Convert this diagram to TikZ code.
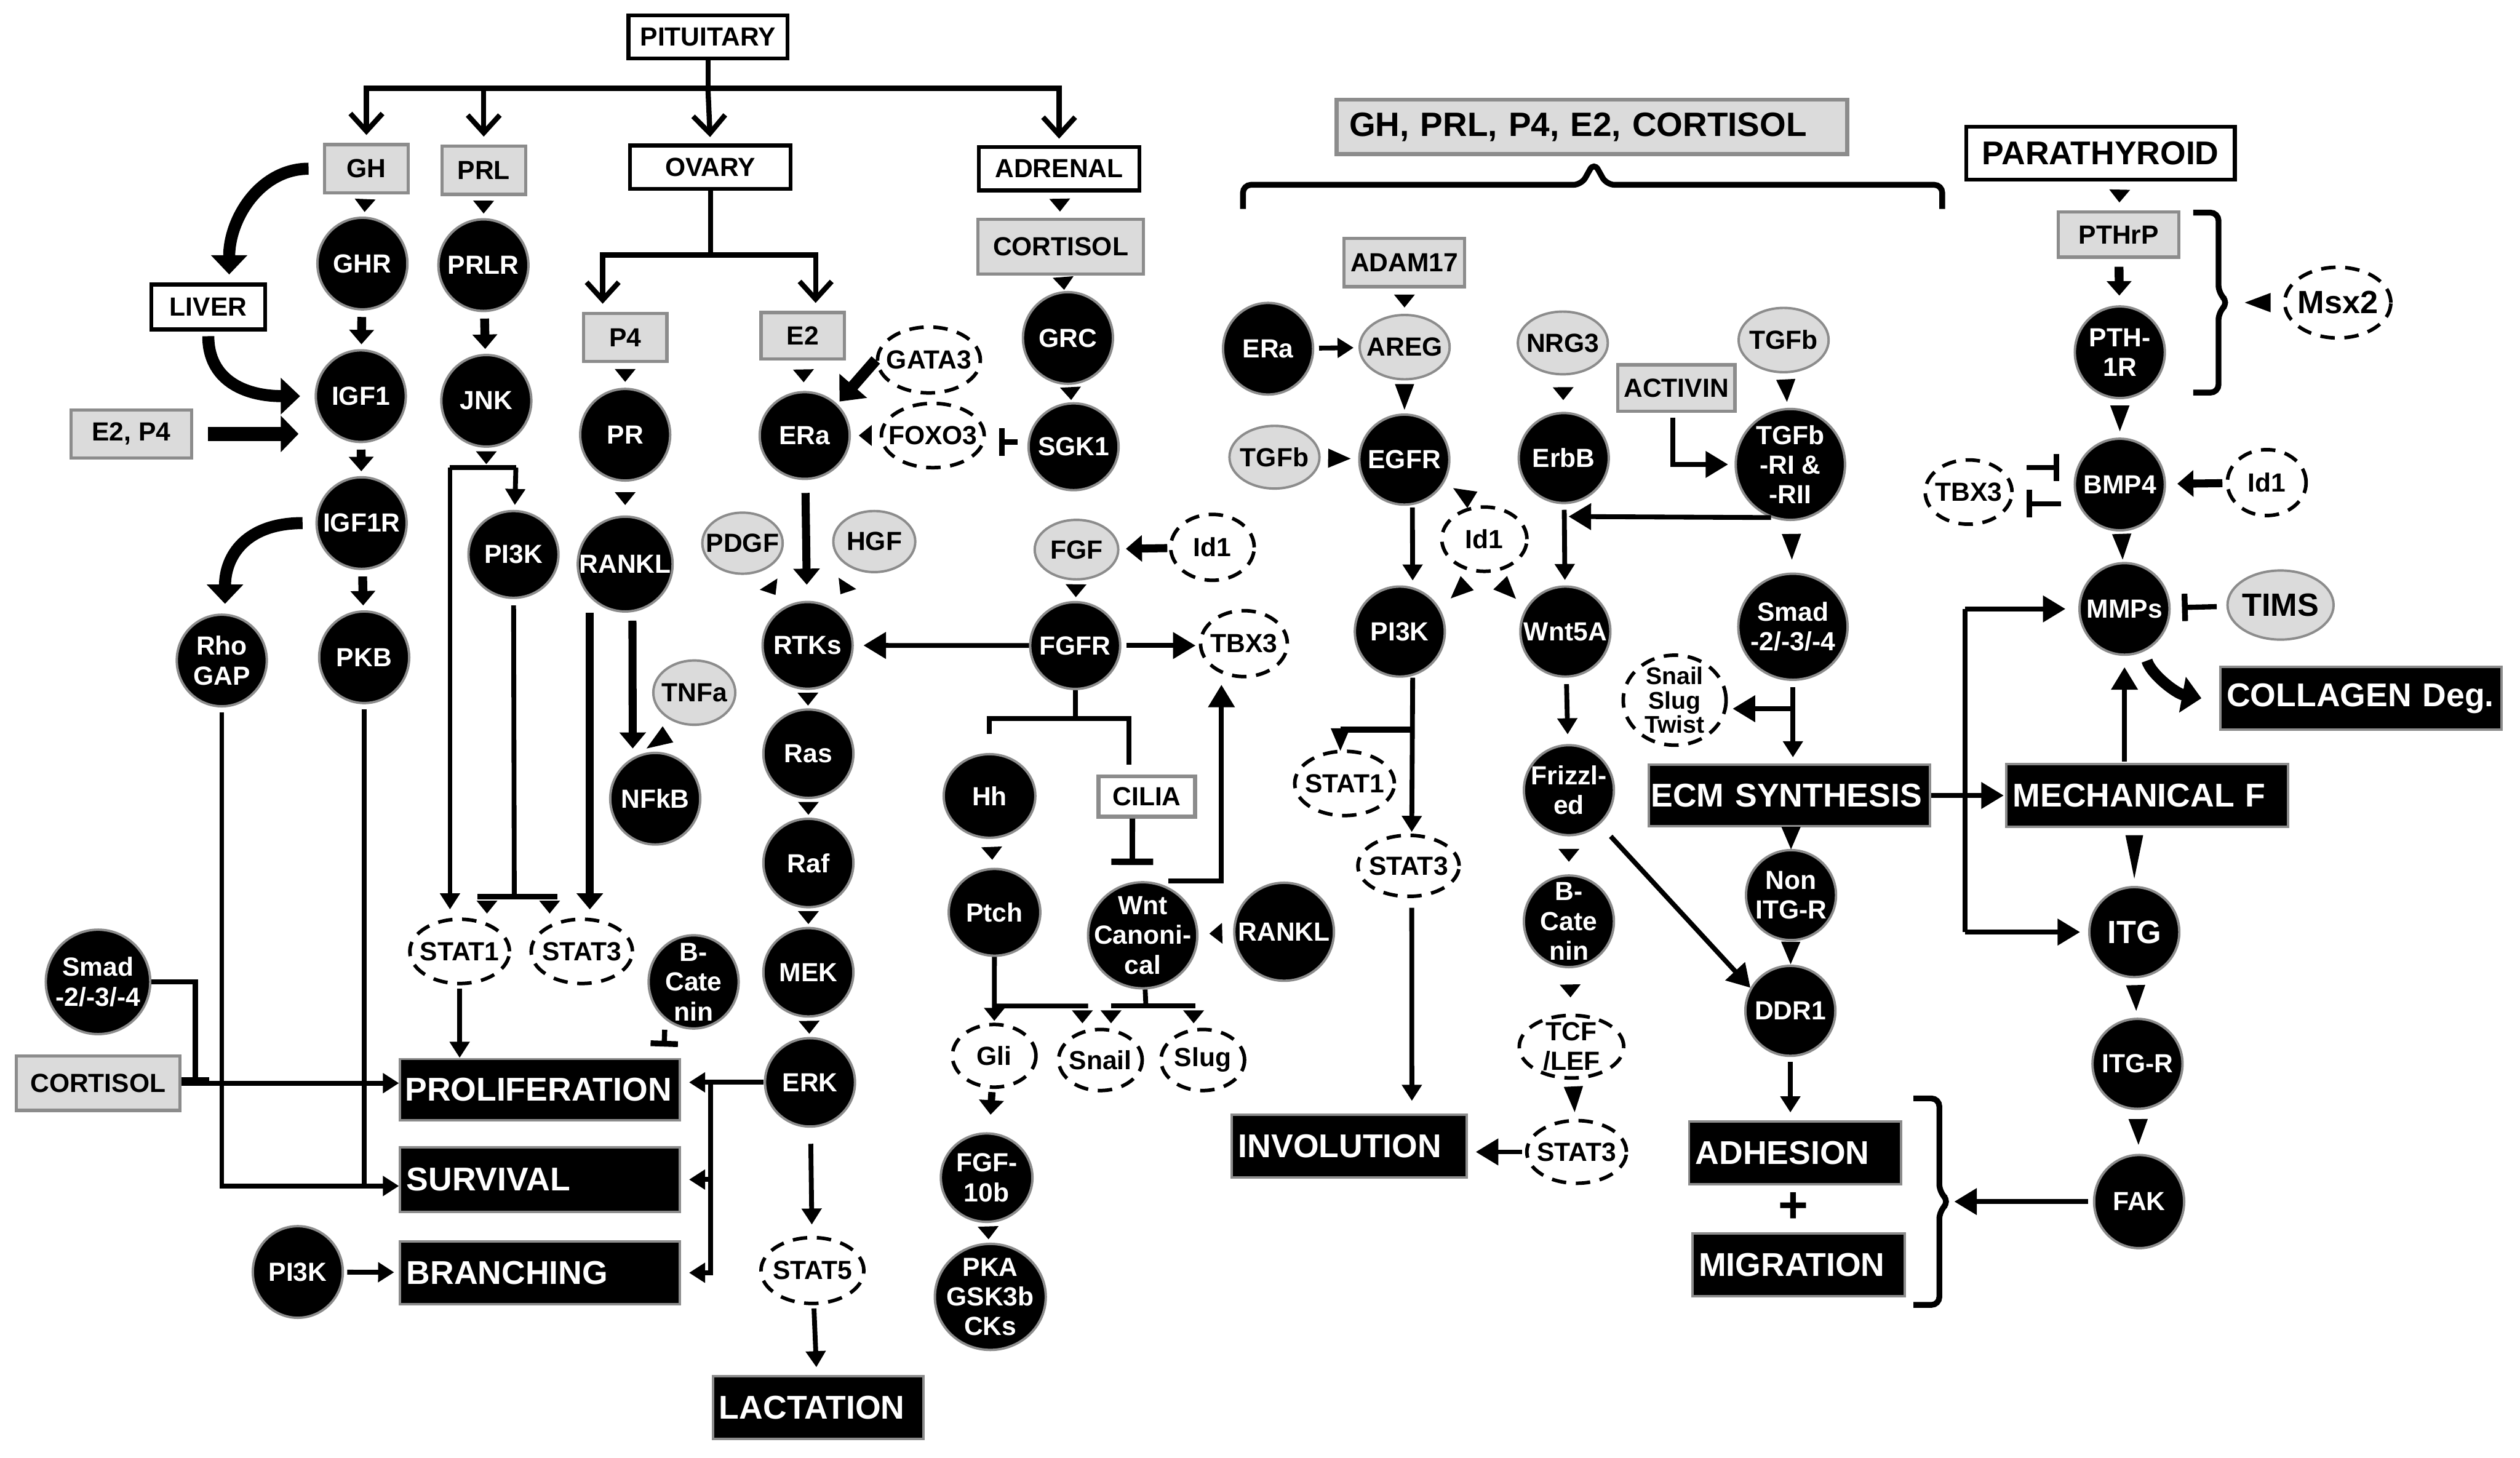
\documentclass[tikz,border=0pt]{standalone}
\usepackage{fontspec}
\setmainfont{Liberation Sans}
\usetikzlibrary{arrows.meta,shapes.geometric,decorations.markings,calc}
\definecolor{lgray}{gray}{0.86}
\definecolor{bgray}{gray}{0.55}
\newcommand\ct[1]{\makebox[0pt]{\vbox to 0pt{\vss\halign{\hfil##\hfil\cr#1\crcr}\vss}}}
\tikzset{
  nbase/.style={font=\bfseries\fontsize{16.3}{18.5}\selectfont, inner sep=0pt},
  bc/.style={nbase, ellipse, fill=black, draw=bgray, line width=1.5pt, text=white, minimum width=56pt, minimum height=57pt},
  gc/.style={nbase, ellipse, fill=lgray, draw=bgray, line width=1.5pt, minimum width=55pt, minimum height=39pt},
  dc/.style={nbase, ellipse, draw=black, line width=2.2pt, dash pattern=on 9pt off 6pt, fill=white, minimum width=62pt, minimum height=40pt},
  gbox/.style={nbase, rectangle, fill=lgray, draw=bgray, line width=2pt},
  wbox/.style={nbase, rectangle, fill=white, draw=black, line width=2.4pt},
  kbox/.style={nbase, rectangle, fill=black, draw=bgray, line width=1.5pt, text=white, font=\bfseries\fontsize{20.5}{22}\selectfont, align=left, inner xsep=4pt, minimum height=39pt},
  bigfont/.style={font=\bfseries\fontsize{20}{22}\selectfont},
  ln/.style={line width=3pt},
  arr/.style={line width=3pt, -{Triangle[length=10pt,width=12pt]}},
  arrB/.style={line width=3pt, -{Triangle[length=14pt,width=16pt]}},
  sarr/.style={line width=5.5pt, -{Triangle[length=9pt,width=15pt]}},
  thk/.style={line width=5pt, -{Triangle[length=10pt,width=16pt]}},
  thkG/.style={line width=7pt, -{Triangle[length=13pt,width=22pt]}},
  bigarr/.style={line width=9pt, -{Triangle[length=11pt,width=22pt]}},
  curv/.style={line width=7.5pt, -{Triangle[length=12pt,width=22pt]}},
  inh/.style={line width=3.2pt, -{Bar[width=17pt,line width=3.6pt]}},
  openarr/.style={line width=3.2pt, -{Straight Barb[length=11pt,width=20pt]}},
  brc/.style={line width=3.6pt, rounded corners=5pt},
  tria/.style={decorate, decoration={markings, mark=at position 0.5 with {\fill (4,0) -- (-4,6.5) -- (-4,-6.5) -- cycle;}}},
  triaM/.style={decorate, decoration={markings, mark=at position 0.5 with {\fill (7,0) -- (-7,6) -- (-7,-6) -- cycle;}}},
  triaL/.style={decorate, decoration={markings, mark=at position 0.5 with {\fill (8,0) -- (-8,6) -- (-8,-6) -- cycle;}}},
  triaXL/.style={decorate, decoration={markings, mark=at position 0.5 with {\fill (13.5,0) -- (-13.5,5.5) -- (-13.5,-5.5) -- cycle;}}},
}
\begin{document}
\begin{tikzpicture}[x=1pt,y=-1pt]
\fill[white] (0,0) rectangle (1568,907);
\useasboundingbox (0,0) rectangle (1568,907);

% ---------------- left part nodes
\node[wbox, minimum width=99pt, minimum height=27pt] (PIT) at (440.5,23) {PITUITARY};
\node[gbox, minimum width=52pt, minimum height=30pt] (GH) at (228,105) {GH};
\node[gbox, minimum width=52pt, minimum height=30pt] (PRL) at (301,106) {PRL};
\node[wbox, minimum width=100pt, minimum height=27pt] (OVARY) at (442,104) {OVARY};
\node[wbox, minimum width=100pt, minimum height=27pt] (ADRENAL) at (659,105) {ADRENAL};
\node[gbox, minimum width=103pt, minimum height=34pt] (CORTM) at (660,153.6) {CORTISOL};
\node[wbox, minimum width=71pt, minimum height=28pt] (LIVER) at (129.6,191) {LIVER};
\node[gbox, minimum width=75pt, minimum height=30pt] (E2P4) at (81.7,270) {E2, P4};
\node[gbox, minimum width=52pt, minimum height=30pt] (P4) at (389,210) {P4};
\node[gbox, minimum width=52pt, minimum height=29pt] (E2) at (499.5,209) {E2};
\node[bc] (GHR) at (225.5,164) {\ct{GHR}};
\node[bc] (IGF1) at (224.5,246.5) {\ct{IGF1}};
\node[bc] (IGF1R) at (225,325.5) {\ct{IGF1R}};
\node[bc] (PKB) at (226.6,409) {\ct{PKB}};
\node[bc] (RHO) at (138,411) {\ct{Rho\cr GAP}};
\node[bc] (PRLR) at (300.8,165) {\ct{PRLR}};
\node[bc] (JNK) at (302.6,249.4) {\ct{JNK}};
\node[bc, minimum height=54pt] (PI3Ka) at (319.5,345) {\ct{PI3K}};
\node[bc] (PR) at (389,270.5) {\ct{PR}};
\node[bc, minimum width=59pt, minimum height=59pt] (RANKLa) at (389,351) {\ct{RANKL}};
\node[gc, minimum width=51pt, minimum height=40pt] (TNFA) at (432,431) {\ct{TNFa}};
\node[bc] (NFKB) at (407.7,497) {\ct{NFkB}};
\node[dc] (STAT1a) at (286,592) {\ct{STAT1}};
\node[dc, minimum width=63pt] (STAT3a) at (362,592) {\ct{STAT3}};
\node[bc, minimum height=58pt] (BCATa) at (431.6,611) {\ct{B-\cr Cate\cr nin}};
\node[bc, minimum width=65pt, minimum height=65pt] (SMADa) at (61,611) {\ct{Smad\cr -2/-3/-4}};
\node[gbox, minimum width=102pt, minimum height=34pt] (CORTL) at (61,674) {CORTISOL};
\node[kbox, text width=168pt, inner xsep=3pt, minimum height=38pt] (PROLIF) at (336,678) {PROLIFERATION};
\node[kbox, text width=166pt, minimum height=40pt] (SURV) at (336,734) {SURVIVAL};
\node[kbox, text width=166pt] (BRANCH) at (336,792) {BRANCHING};
\node[bc] (PI3Kb) at (185.3,791.5) {\ct{PI3K}};

% ---------------- middle nodes
\node[bc, minimum height=54pt] (ERAa) at (500.7,271) {\ct{ERa}};
\node[dc, minimum width=64pt, minimum height=41pt] (GATA3) at (578,224) {\ct{GATA3}};
\node[dc, minimum width=64pt] (FOXO3) at (580.4,271) {\ct{FOXO3}};
\node[bc] (GRC) at (664.5,210.3) {\ct{GRC}};
\node[bc, minimum height=54pt] (SGK1) at (668,278) {\ct{SGK1}};
\node[gc, minimum width=50pt, minimum height=38pt] (PDGF) at (462,338) {\ct{PDGF}};
\node[gc, minimum width=51pt, minimum height=38pt] (HGF) at (544,337) {\ct{HGF}};
\node[bc, minimum height=54pt] (RTKS) at (502.5,401.6) {\ct{RTKs}};
\node[bc, minimum height=55pt] (RAS) at (503,469) {\ct{Ras}};
\node[bc, minimum height=55pt] (RAF) at (503,537) {\ct{Raf}};
\node[bc, minimum height=55pt] (MEK) at (503,605) {\ct{MEK}};
\node[bc, minimum height=55pt] (ERK) at (504,673.5) {\ct{ERK}};
\node[dc, minimum width=64pt, minimum height=41pt] (STAT5) at (505.5,790.6) {\ct{STAT5}};
\node[kbox, text width=123pt] (LACT) at (509,876) {LACTATION};
\node[gc, minimum width=52pt, minimum height=37pt] (FGF) at (669.8,342) {\ct{FGF}};
\node[dc, minimum width=52pt, minimum height=41pt] (ID1a) at (754.4,340.6) {\ct{Id1}};
\node[bc, minimum height=54pt] (FGFR) at (669,401.7) {\ct{FGFR}};
\node[dc, minimum width=54pt, minimum height=41pt] (TBX3a) at (774,400.5) {\ct{TBX3}};
\node[bc, minimum width=57pt, minimum height=52pt] (HH) at (615.7,495.3) {\ct{Hh}};
\node[nbase, rectangle, draw=bgray, fill=white, line width=2.5pt, minimum width=60pt, minimum height=25pt] (CILIA) at (713.6,495.6) {CILIA};
\node[bc, minimum width=57pt, minimum height=54pt] (PTCH) at (618.8,567.7) {\ct{Ptch}};
\node[bc, minimum width=68pt, minimum height=66pt] (WNT) at (711,582) {\ct{Wnt\cr Canoni-\cr cal}};
\node[bc, minimum width=62pt, minimum height=61pt] (RANKLb) at (799,579.8) {\ct{RANKL}};
\node[dc, minimum width=52pt, minimum height=39pt] (GLI) at (618.6,657) {\ct{Gli}};
\node[dc, minimum width=52pt, minimum height=38pt] (SNAILa) at (684.7,659.6) {\ct{Snail}};
\node[dc, minimum width=52pt, minimum height=38pt] (SLUGa) at (748.4,659.6) {\ct{Slug}};
\node[bc, minimum width=57pt, minimum height=55pt] (FGF10) at (613.9,732.8) {\ct{FGF-\cr 10b}};
\node[bc, minimum width=69pt, minimum height=66pt] (PKA) at (616.2,807) {\ct{PKA\cr GSK3b\cr CKs}};

% ---------------- right nodes
\node[gbox, text width=302pt, align=left, inner xsep=8pt, minimum height=34pt, line width=2.6pt, font=\bfseries\fontsize{21}{23}\selectfont] (HORM) at (990.5,79) {GH, PRL, P4, E2, CORTISOL};
\node[gbox, minimum width=75pt, minimum height=30pt] (ADAM) at (873.8,163.4) {ADAM17};
\node[bc] (ERAb) at (789,217) {\ct{ERa}};
\node[gc, minimum width=56pt, minimum height=40pt] (AREG) at (874,216) {\ct{AREG}};
\node[gc, minimum width=56pt, minimum height=39pt] (NRG3) at (972.4,213.4) {\ct{NRG3}};
\node[gc, minimum width=56pt, minimum height=40pt] (TGFBa) at (1109.8,211.6) {\ct{TGFb}};
\node[gbox, minimum width=73pt, minimum height=29pt] (ACT) at (1043,241.5) {ACTIVIN};
\node[gc, minimum width=56pt, minimum height=39pt] (TGFBb) at (793,284.5) {\ct{TGFb}};
\node[bc, minimum height=56pt] (EGFR) at (873.8,286) {\ct{EGFR}};
\node[bc, minimum height=56pt] (ERBB) at (973,285) {\ct{ErbB}};
\node[bc, minimum width=68pt, minimum height=69pt] (TGFBR) at (1114,289) {\ct{TGFb\cr -RI \&\cr -RII}};
\node[dc, minimum width=53pt, minimum height=40pt] (ID1b) at (923.6,335.5) {\ct{Id1}};
\node[bc, minimum height=56pt] (PI3Kc) at (871,393) {\ct{PI3K}};
\node[bc, minimum height=56pt] (WNT5A) at (974,393) {\ct{Wnt5A}};
\node[bc, minimum width=68pt, minimum height=66pt] (SMADb) at (1115.6,390) {\ct{Smad\cr -2/-3/-4}};
\node[dc, minimum width=64pt, minimum height=56pt, font=\bfseries\fontsize{15}{15}\selectfont] (SNAILb) at (1042,435.7) {\ct{Snail\cr Slug\cr Twist}};
\node[dc] (STAT1b) at (836.6,487.5) {\ct{STAT1}};
\node[dc, minimum width=63pt, minimum height=38pt] (STAT3b) at (876.4,538.8) {\ct{STAT3}};
\node[bc, minimum height=56pt] (FRIZ) at (976.2,491.7) {\ct{Frizzl-\cr ed}};
\node[bc] (BCATb) at (976.2,573.3) {\ct{B-\cr Cate\cr nin}};
\node[dc, minimum width=65pt, minimum height=39pt] (TCF) at (977.8,651.3) {\ct{TCF\cr /LEF}};
\node[dc, minimum height=39pt] (STAT3c) at (981,716.8) {\ct{STAT3}};
\node[kbox, text width=138pt] (INVOL) at (839.5,713.3) {INVOLUTION};
\node[kbox, text width=172pt, inner xsep=1.5pt, minimum height=38pt] (ECM) at (1113.3,495) {ECM SYNTHESIS};
\node[kbox, text width=167pt] (MECH) at (1336,495) {MECHANICAL F};
\node[bc, minimum height=56pt] (NONITG) at (1114.4,557) {\ct{Non\cr ITG-R}};
\node[bc, minimum height=56pt] (DDR1) at (1114,629) {\ct{DDR1}};
\node[kbox, text width=124pt] (ADH) at (1117,717.5) {ADHESION};
\node[nbase, font=\bfseries\fontsize{32}{32}\selectfont] (PLUS) at (1115.7,751.6) {+};
\node[kbox, text width=124pt] (MIGR) at (1119,787) {MIGRATION};
\node[wbox, minimum width=167pt, minimum height=33pt, font=\bfseries\fontsize{20.5}{22}\selectfont] (PARA) at (1307,95.3) {PARATHYROID};
\node[gbox, minimum width=75pt, minimum height=28pt] (PTHRP) at (1318.3,146) {PTHrP};
\node[bc] (PTH1R) at (1319,219.2) {\ct{PTH-\cr 1R}};
\node[dc, bigfont, minimum width=66pt, minimum height=44pt] (MSX2) at (1454.6,188.3) {\ct{Msx2}};
\node[bc] (BMP4) at (1319,301.5) {\ct{BMP4}};
\node[dc, minimum width=54pt, minimum height=40pt] (TBX3b) at (1224.9,306.2) {\ct{TBX3}};
\node[dc, minimum width=49pt, minimum height=41pt] (ID1c) at (1410.4,300.3) {\ct{Id1}};
\node[bc] (MMPS) at (1321.9,378.9) {\ct{MMPs}};
\node[gc, bigfont, minimum width=66pt, minimum height=43pt] (TIMS) at (1419,376.5) {\ct{TIMS}};
\node[kbox, text width=167pt] (COLL) at (1469,434.5) {COLLAGEN Deg.};
\node[bc, bigfont, minimum height=56pt] (ITG) at (1328,580) {\ct{ITG}};
\node[bc, minimum height=56pt] (ITGR) at (1330,662) {\ct{ITG-R}};
\node[bc, minimum height=58pt] (FAK) at (1331,747.7) {\ct{FAK}};

% ---------------- coordinates
\coordinate (pj) at (440.5,55);
\coordinate (oj) at (442,158.7);
\coordinate (jbl) at (280,291);
\coordinate (jbr) at (321,291);
\coordinate (pb) at (320,558);
\coordinate (pbl) at (297,558);
\coordinate (pbr) at (347,558);
\coordinate (t1) at (303,558);
\coordinate (t2) at (342,558);
\coordinate (smj) at (121.5,674);
\coordinate (ej) at (442,673.5);
\coordinate (fj) at (669,447);
\coordinate (pj1) at (618.7,626);
\coordinate (pj2) at (677,626);
\coordinate (pj3) at (673.5,626);
\coordinate (wj) at (713,626);
\coordinate (wj1) at (691.3,626);
\coordinate (wj2) at (743.7,626);
\coordinate (ew) at (975,321.4);
\coordinate (sj) at (1115.6,441);
\coordinate (vt) at (1222.7,378.9);
\coordinate (vb) at (1222.7,580);
\coordinate (pk1) at (878.7,454);
\coordinate (pk2) at (834,454);
\coordinate (br1) at (1389,188.3);
\coordinate (br2) at (1216,747.7);

% ---------------- pituitary / ovary tree
\draw[ln] (PIT) -- (pj);
\draw[openarr, shorten >=5pt] (pj) -| (GH.north);
\draw[openarr, shorten >=5pt] (pj) -| (PRL.north);
\draw[openarr, shorten >=4pt] (pj) -- (OVARY.north);
\draw[openarr, shorten >=4pt] (pj) -| (ADRENAL.north);
\draw[ln] (OVARY) -- (oj);
\draw[openarr, shorten >=5pt] (oj) -| ([xshift=-14pt]P4.north);
\draw[openarr, shorten >=5pt] (oj) -| ([xshift=8pt]E2.north);

% ---------------- GH / PRL columns
\path[tria] (GH) -- (GHR);
\path[tria] (PRL) -- (PRLR);
\draw[sarr, shorten <=4pt, shorten >=3pt] (GHR) -- (IGF1);
\draw[sarr, shorten <=4pt, shorten >=3pt] (IGF1) -- (IGF1R);
\draw[sarr, shorten <=4pt, shorten >=3pt] (IGF1R) -- (PKB);
\draw[sarr, shorten <=4pt, shorten >=3pt] (PRLR) -- (JNK);
\draw[curv] ([xshift=-9pt]GH.west) .. controls +(-30,0) and +(0,-35) .. ([xshift=13pt,yshift=5pt]LIVER.north);
\draw[curv, shorten <=3pt] (LIVER.south) .. controls +(0,30) and +(-35,0) .. ([xshift=-9pt]IGF1.west);
\draw[curv] ([xshift=-8pt]IGF1R.west) .. controls +(-35,0) and +(0,-30) .. ([xshift=2pt,yshift=6pt]RHO.north);
\draw[bigarr, shorten <=9pt, shorten >=10pt] (E2P4.east) -- (IGF1.west |- E2P4.east);

\path[tria] (JNK) -- (JNK.center |- jbl);
\draw[ln] (jbl) -- (jbr);
\draw[arr, shorten >=3pt] (jbr) -- (PI3Ka);
\draw[arr, shorten >=5pt] (jbl) -- (jbl |- STAT1a.north);
\draw[ln, shorten <=4pt] (PI3Ka) -- (pb);
\draw[line width=3.4pt] (pbl) -- (pbr);
\path[tria] (t1) -- (t1 |- STAT1a.north);
\path[tria] (t2) -- (t2 |- STAT3a.north);
\path[tria] (P4) -- (PR);
\path[tria] (PR) -- (RANKLa);
\draw[thk, shorten >=5pt] ([xshift=-22pt]RANKLa.south) -- ([xshift=5pt]STAT3a.north);
\draw[thk, shorten <=5pt, shorten >=2pt] ([xshift=4.5pt]RANKLa.south) -- ([xshift=-14pt]NFKB.north);
\path[triaL] (TNFA.-110) -- (NFKB.120);

% ---------------- left outcomes
\draw[arr, shorten <=3pt] (RHO.south) |- ([yshift=-4pt]SURV.west);
\draw[ln, shorten <=3pt] (PKB.south) -- (PKB.south |- 0,738);
\draw[arr] (CORTL) -- (PROLIF.west |- CORTL);
\draw[inh] (SMADa) -| (smj);
\draw[arr, shorten <=2pt] (STAT1a) -- (STAT1a |- PROLIF.north);
\draw[inh, shorten >=7pt] ([xshift=-18pt]BCATa.south) -- ([xshift=77pt]PROLIF.north);
\draw[arr, shorten <=2pt, shorten >=3pt] (PI3Kb) -- (BRANCH);
\draw[arr, shorten >=5pt] (ERK.west) -- (PROLIF.east |- ERK.west);
\draw[arr, shorten >=5pt] (ej) |- (SURV.east);
\draw[arr, shorten >=5pt] (ej) |- (BRANCH.east);
\draw[arr, shorten <=10pt, shorten >=7pt] (ERK) -- (STAT5);
\draw[arr, shorten <=2pt, shorten >=5pt] (STAT5) -- (LACT);

% ---------------- ERa / RTK chain
\path[tria] (E2) -- (ERAa);
\draw[thkG, shorten >=2pt] (GATA3.west) -- (ERAa.north east);
\path[tria] (FOXO3) -- (ERAa);
\draw[inh, shorten <=6pt, shorten >=8pt] (SGK1.west |- 0,275) -- (FOXO3.east |- 0,275);
\path[tria] (ADRENAL) -- (CORTM);
\path[tria] (CORTM) -- (GRC);
\path[tria] (GRC) -- (SGK1);
\draw[thk, shorten <=8pt, shorten >=10pt] (ERAa) -- (RTKS);
\path[tria] (PDGF) -- (RTKS);
\path[tria] (HGF) -- (RTKS);
\path[tria] (RTKS) -- (RAS);
\path[tria] (RAS) -- (RAF);
\path[tria] (RAF) -- (MEK);
\path[tria] (MEK) -- (ERK);
\draw[arrB, shorten >=6pt] (FGFR) -- (RTKS);
\draw[arrB, shorten <=3pt, shorten >=2pt] (FGFR.east) -- (TBX3a.west |- FGFR.east);
\draw[thk, shorten <=1pt, shorten >=4pt] (ID1a) -- (FGF);
\path[tria] (FGF) -- (FGFR);
\draw[ln] (FGFR) -- (fj);
\draw[ln, shorten >=12pt] (fj) -| (HH.north);
\draw[ln, shorten >=6pt] (fj) -| ([xshift=-11pt]CILIA.north);
\draw[inh, line width=3.4pt, -{Bar[width=26pt,line width=4pt]}, shorten >=10pt] ([xshift=-9pt]CILIA.south) -- ([xshift=-6.5pt]WNT.north);
\draw[arrB, shorten >=4pt] ([xshift=16pt]WNT.north) -| ([xshift=-14pt]TBX3a.south);
\path[tria] (RANKLb) -- (WNT);
\path[tria] (HH) -- (PTCH);
\draw[ln] (PTCH) -- (pj1) -- (pj2);
\path[tria] (pj1) -- (GLI);
\path[tria] (pj3) -- (pj3 |- SNAILa.north);
\draw[ln] (WNT) -- (wj);
\draw[ln] (wj1) -- (wj2);
\path[tria] (wj1) -- (wj1 |- SNAILa.north);
\path[tria] ([xshift=-1pt]wj2) -- ([xshift=-1pt]SLUGa.north -| wj2);
\draw[sarr, line width=4.5pt, shorten <=2pt, shorten >=11pt] (GLI) -- (FGF10);
\path[tria] (FGF10) -- (PKA);

% ---------------- right part
\draw[brc] (773.4,130) -- (773.4,115) -- (984,115) -- (991.8,101) -- (999.6,115) -- (1208.5,115) -- (1208.5,130);
\path[tria] (ADAM) -- (AREG);
\draw[arr, shorten <=3pt, shorten >=3pt] (ERAb) -- (AREG);
\path[triaL] (AREG) -- (EGFR);
\path[triaM] (TGFBb) -- (EGFR);
\draw[arr, shorten <=1pt, shorten >=3pt] ([xshift=5pt]EGFR.south) -- ([xshift=8pt]PI3Kc.north);
\path[triaM] ([xshift=-2pt]ID1b.north) -- (EGFR.-30);
\path[triaM] ([xshift=-4pt]ID1b.south) -- (PI3Kc.30);
\path[triaM] ([xshift=4pt]ID1b.south) -- (WNT5A.150);
\path[tria] (NRG3) -- (ERBB);
\draw[arr, shorten <=3.5pt, shorten >=3.3pt] (ERBB) -- (WNT5A);
\draw[arrB, shorten >=1pt] (TGFBR.250) -- (ew);
\path[triaM] (TGFBa) -- (TGFBR);
\draw[arrB, shorten <=3pt, shorten >=4pt] ([xshift=-2pt]ACT.south) |- (TGFBR.west);
\path[triaL] (TGFBR) -- (SMADb);
\draw[arr, shorten <=4pt, shorten >=4pt] (SMADb) -- (SMADb |- ECM.north);
\draw[arrB, shorten >=3pt] (sj) -- (SNAILb.east |- sj);
\draw[arrB, shorten >=1pt] (ECM) -- (MECH);
\draw[ln] (vt) -- (vb);
\draw[arrB, shorten >=8pt] (vt) -- (MMPS);
\draw[arrB, shorten >=5pt] (vb) -- (ITG);
\path[tria] ([xshift=12pt]PARA.south) -- (PTHRP);
\draw[sarr, shorten <=5pt, shorten >=6pt] (PTHRP) -- (PTH1R);
\draw[brc] (1364.7,132.3) -- (1380.4,132.3) -- (1380.4,182.6) -- (1386.7,188.3) -- (1380.4,194) -- (1380.4,244.3) -- (1364.7,244.3);
\path[triaL] (MSX2) -- (br1);
\path[triaL] (PTH1R) -- (BMP4);
\draw[inh, shorten <=8pt, shorten >=9pt] (TBX3b.east |- 0,291) -- (BMP4.west |- 0,291);
\draw[inh, shorten <=8pt, shorten >=8pt] (BMP4.west |- 0,313.4) -- (TBX3b.east |- 0,313.4);
\draw[thk, shorten <=2pt, shorten >=7pt] (ID1c) -- (BMP4);
\path[triaL] (BMP4) -- (MMPS);
\draw[inh, shorten <=6pt, shorten >=7pt] (TIMS) -- (MMPS);
\draw[curv, line width=7pt, shorten <=6pt] (MMPS.-65) .. controls +(4,14) and +(-16,-3) .. ([xshift=-11pt]COLL.west);
\draw[arrB, shorten <=1pt, shorten >=7pt] (MECH.north -| MMPS) -- (MMPS);
\path[triaXL] (MECH.south -| ITG) -- (ITG);
\path[triaL] (ITG) -- (ITGR);
\path[triaL] (ITGR) -- (FAK);
\path[triaM] (ECM.south -| NONITG) -- (NONITG);
\path[triaM] (NONITG) -- (DDR1);
\draw[arr, shorten <=3pt, shorten >=5pt] (DDR1) -- (DDR1 |- ADH.north);
\draw[arrB, shorten <=10pt] (FRIZ.-48) -- (DDR1.150);
\draw[arr, shorten <=4pt, shorten >=6pt] (WNT5A) -- (FRIZ);
\path[tria] (FRIZ) -- (BCATb);
\path[tria] (BCATb) -- (TCF);
\path[triaL] (TCF) -- (STAT3c);
\draw[arrB, shorten <=2pt, shorten >=5pt] (STAT3c) -- (INVOL.east |- STAT3c);
\draw[arr, shorten >=1pt] ([xshift=8pt]PI3Kc.south) -- ([xshift=2pt]STAT3b.north);
\draw[ln, line width=3.6pt] (pk1) -- (pk2);
\path[triaM] (pk2) -- (pk2 |- STAT1b.north);
\draw[arr, shorten <=6pt, shorten >=8pt] ([xshift=2pt]STAT3b.south) -- ([xshift=39pt]INVOL.north);
\draw[brc] (1190.6,683.5) -- (1206.7,683.5) -- (1206.7,742) -- (1213,747.7) -- (1206.7,753.4) -- (1206.7,812) -- (1190.6,812);
\draw[arrB, shorten <=3pt] (FAK) -- (br2);
\end{tikzpicture}
\end{document}
